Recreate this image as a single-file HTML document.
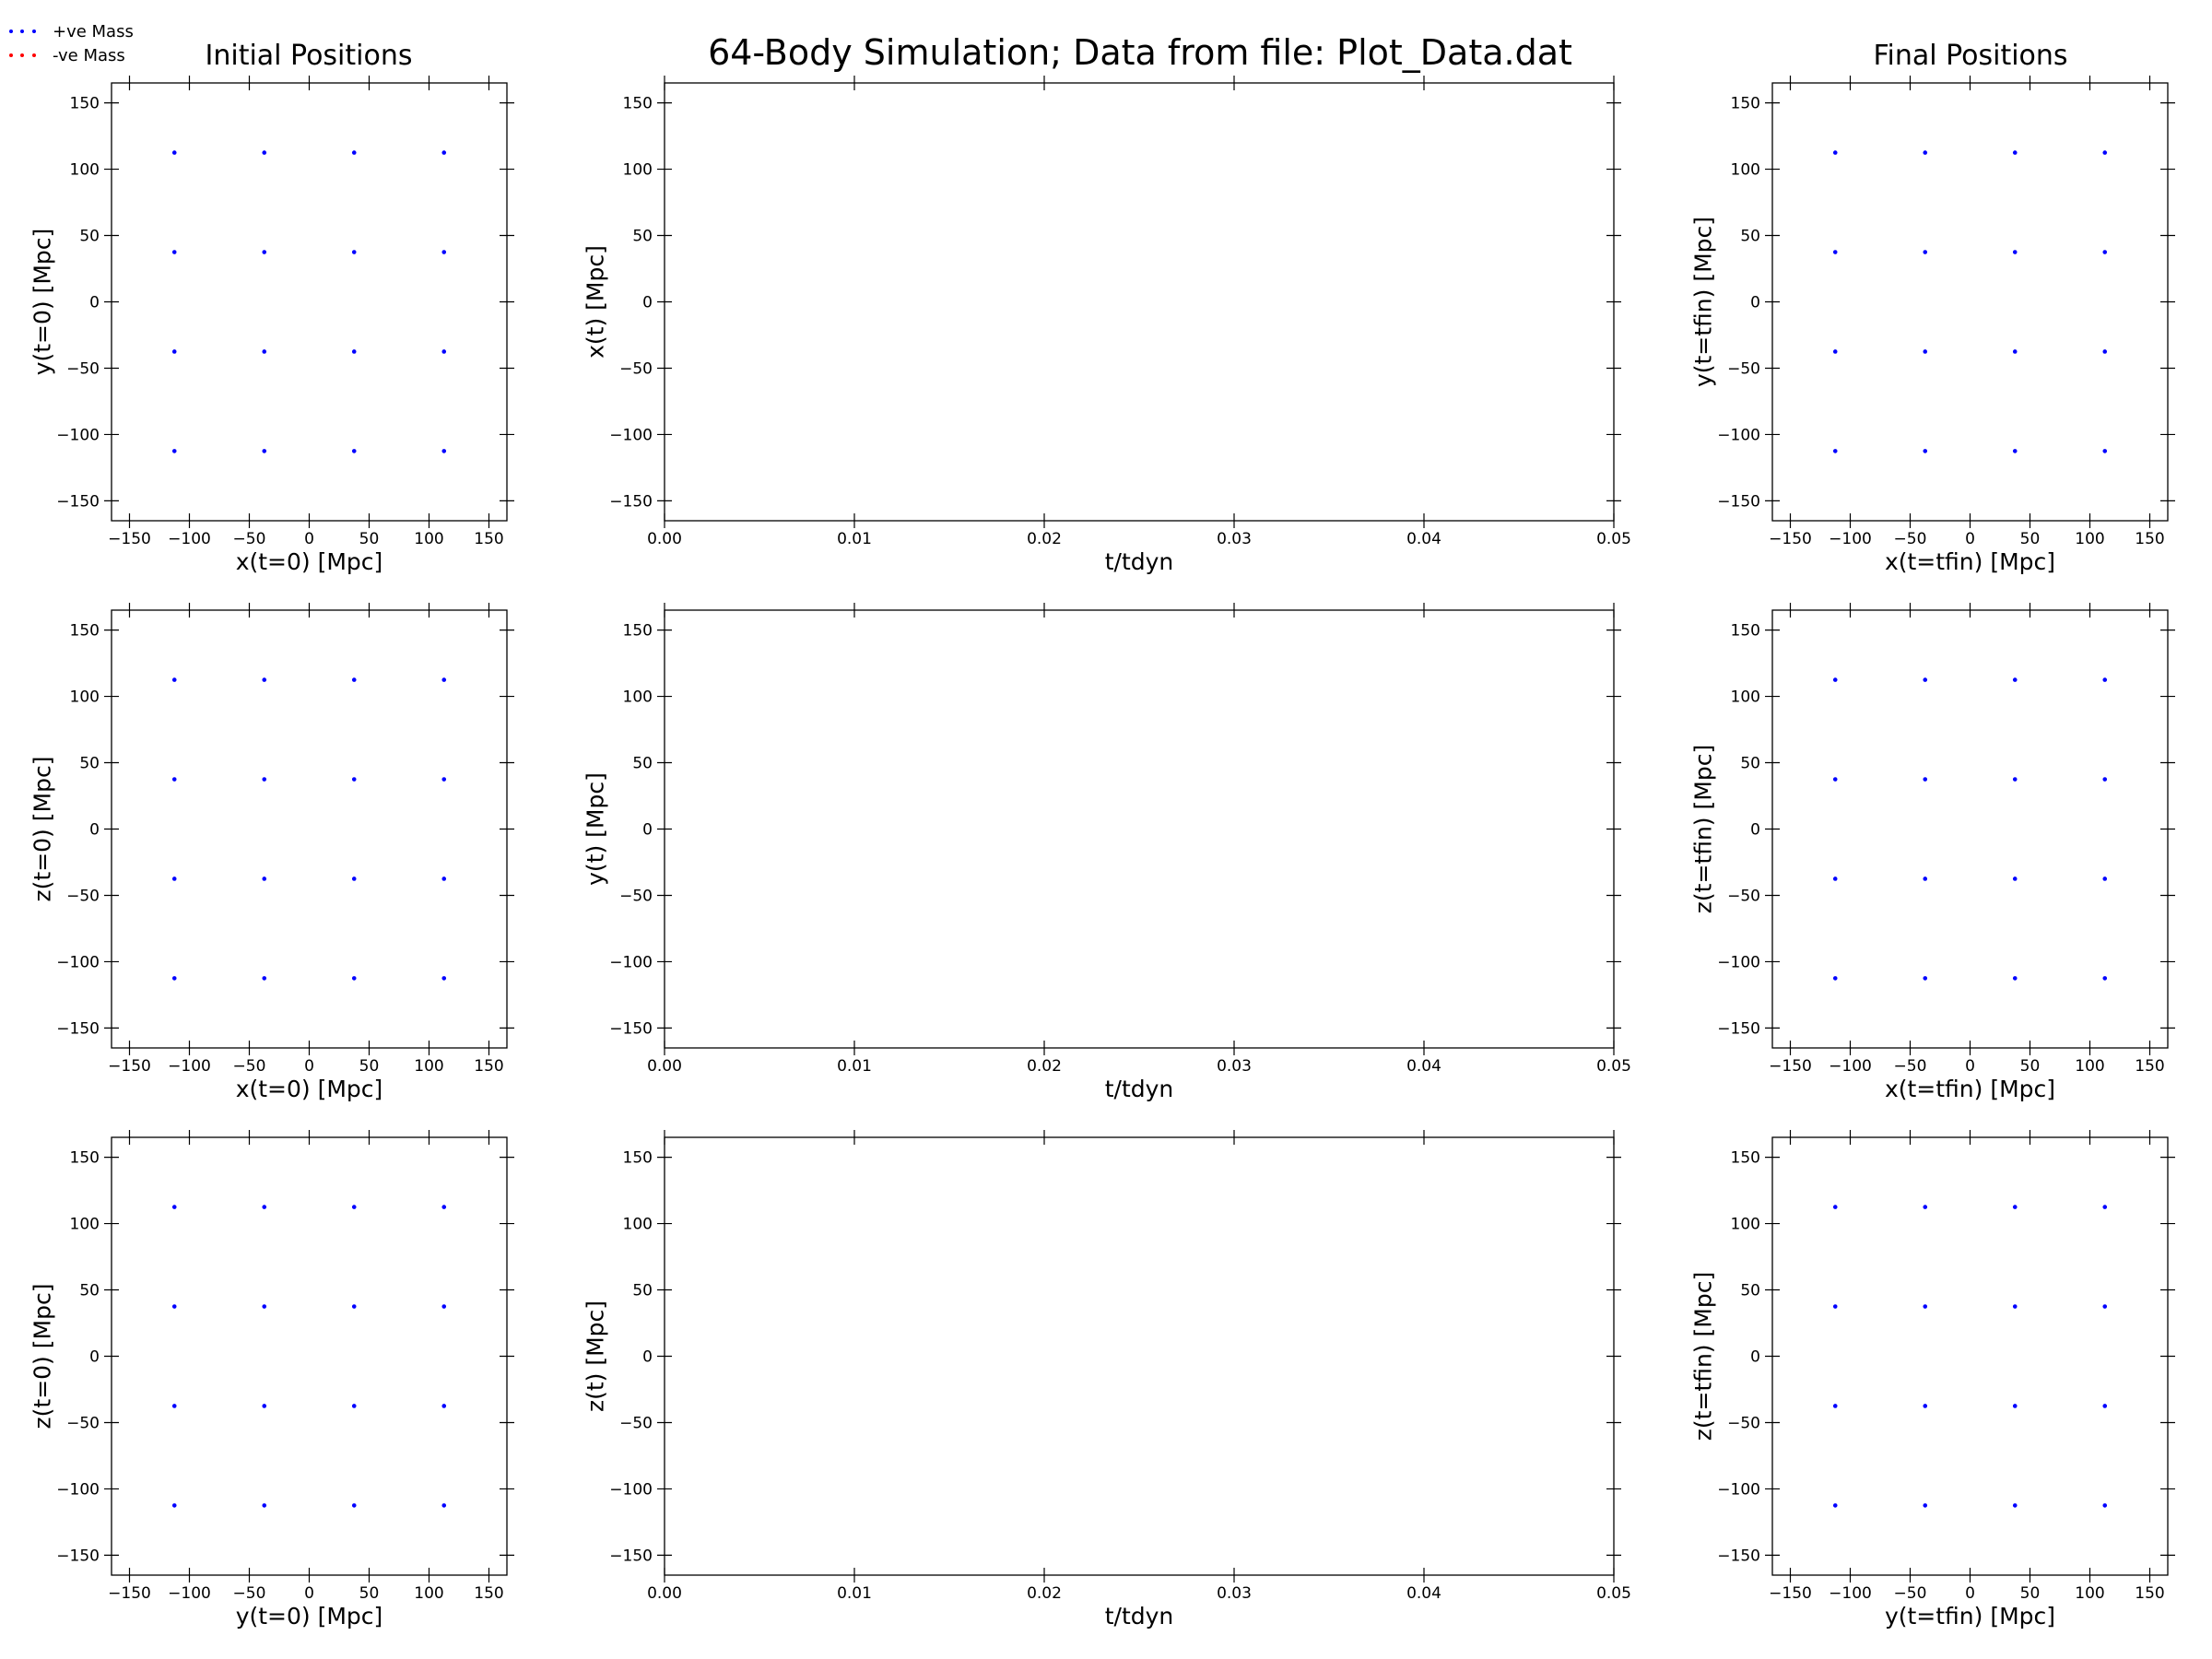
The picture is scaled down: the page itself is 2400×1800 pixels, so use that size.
<!DOCTYPE html>
<html><head><meta charset="utf-8">
<style>
html,body{margin:0;padding:0;background:#fff;}
svg{display:block;font-family:"DejaVu Sans","Liberation Sans",sans-serif;}
</style></head>
<body>
<svg id="fig" width="2400" height="1800" viewBox="0 0 2400 1800" xmlns="http://www.w3.org/2000/svg">
<rect width="2400" height="1800" fill="#fff"/>
<text x="1237" y="70" font-size="38" text-anchor="middle">64-Body Simulation; Data from file: Plot_Data.dat</text>
<text x="335" y="70" font-size="30" text-anchor="middle">Initial Positions</text>
<text x="2138" y="70" font-size="30" text-anchor="middle">Final Positions</text>
<g font-family="DejaVu Sans, sans-serif">
  <g>
    <circle cx="12" cy="34" r="2" fill="#0000ff"/><circle cx="24" cy="34" r="2" fill="#0000ff"/><circle cx="37" cy="34" r="2" fill="#0000ff"/>
    <text x="57" y="40" font-size="18">+ve Mass</text>
  </g>
  <g>
    <circle cx="12" cy="60" r="2" fill="#ff0000"/><circle cx="24" cy="60" r="2" fill="#ff0000"/><circle cx="37" cy="60" r="2" fill="#ff0000"/>
    <text x="57" y="66" font-size="18">-ve Mass</text>
  </g>
</g>
</svg>
<script>
// Data
const posTicks = [-150, -100, -50, 0, 50, 100, 150];
const posTickLabels = ["\u2212150", "\u2212100", "\u221250", "0", "50", "100", "150"];
const timeTicks = [0.00, 0.01, 0.02, 0.03, 0.04, 0.05];
const timeTickLabels = ["0.00", "0.01", "0.02", "0.03", "0.04", "0.05"];
const gridA = [-112.5, -112.5, -112.5, -112.5, -37.5, -37.5, -37.5, -37.5, 37.5, 37.5, 37.5, 37.5, 112.5, 112.5, 112.5, 112.5];
const gridB = [-112.5, -37.5, 37.5, 112.5, -112.5, -37.5, 37.5, 112.5, -112.5, -37.5, 37.5, 112.5, -112.5, -37.5, 37.5, 112.5];
const initX = gridA, initY = gridB, initZ = gridB;
const initYforZ = gridA;
const finX = gridA, finY = gridB, finZ = gridB;
const finYforZ = gridA;

const NS = "http://www.w3.org/2000/svg";
const svg = document.getElementById('fig');
function mk(tag, attrs, parent) {
  const e = document.createElementNS(NS, tag);
  for (const k in attrs) e.setAttribute(k, attrs[k]);
  parent.appendChild(e);
  return e;
}
const rowTops = [90, 662, 1234];
const H = 475;
const cols = [{l:121, w:429}, {l:721, w:1030}, {l:1923, w:429}];

function panel(name, col, row, xdom, xt, xtl, xlabel, ylabel, px, py) {
  const L = cols[col].l, W = cols[col].w, T = rowTops[row];
  const g = mk('g', {}, svg);
  
  
  const sx = v => L + (v - xdom[0]) / (xdom[1] - xdom[0]) * W;
  const sy = v => T + H - (v + 165) / 330 * H;
  const frame = mk('rect', {x:L, y:T, width:W, height:H, fill:'none', stroke:'#000', 'stroke-width':1.3}, g);
  
  
  xt.forEach((v, i) => {
    const x = sx(v);
    const tk = mk('path', {d:`M${x},${T-8}V${T+8}M${x},${T+H-8}V${T+H+8}`, stroke:'#000', 'stroke-width':1.2}, g);
    
    
    const t = mk('text', {x:x, y:T+H+25, 'font-size':17, 'text-anchor':'middle'}, g);
    t.textContent = xtl[i];
    
    
  });
  posTicks.forEach((v, i) => {
    const y = sy(v);
    const tk = mk('path', {d:`M${L-8},${y}H${L+8}M${L+W-8},${y}H${L+W+8}`, stroke:'#000', 'stroke-width':1.2}, g);
    
    
    const t = mk('text', {x:L-13, y:y+6, 'font-size':17, 'text-anchor':'end'}, g);
    t.textContent = posTickLabels[i];
    
    
  });
  const xl = mk('text', {x:L+W/2, y:T+H+53, 'font-size':25, 'text-anchor':'middle'}, g);
  xl.textContent = xlabel;
  
  
  const yx = L - 75;
  const yl = mk('text', {x:yx, y:T+H/2, 'font-size':25, 'text-anchor':'middle', transform:`rotate(-90 ${yx} ${T+H/2})`, 'dominant-baseline':'central'}, g);
  yl.textContent = ylabel;
  
  
  if (px) {
    px.forEach((v, i) => {
      const c = mk('circle', {cx:sx(v), cy:sy(py[i]), r:2.3, fill:'#0000ff'}, g);
      
      
    });
  }
}
const pd = [-165, 165], td = [0, 0.05];
panel('initial-xy-panel', 0, 0, pd, posTicks, posTickLabels, 'x(t=0) [Mpc]', 'y(t=0) [Mpc]', initX, initY);
panel('initial-xz-panel', 0, 1, pd, posTicks, posTickLabels, 'x(t=0) [Mpc]', 'z(t=0) [Mpc]', initX, initZ);
panel('initial-yz-panel', 0, 2, pd, posTicks, posTickLabels, 'y(t=0) [Mpc]', 'z(t=0) [Mpc]', initYforZ, initZ);
panel('x-vs-time-panel', 1, 0, td, timeTicks, timeTickLabels, 't/tdyn', 'x(t) [Mpc]', null, null);
panel('y-vs-time-panel', 1, 1, td, timeTicks, timeTickLabels, 't/tdyn', 'y(t) [Mpc]', null, null);
panel('z-vs-time-panel', 1, 2, td, timeTicks, timeTickLabels, 't/tdyn', 'z(t) [Mpc]', null, null);
panel('final-xy-panel', 2, 0, pd, posTicks, posTickLabels, 'x(t=tfin) [Mpc]', 'y(t=tfin) [Mpc]', finX, finY);
panel('final-xz-panel', 2, 1, pd, posTicks, posTickLabels, 'x(t=tfin) [Mpc]', 'z(t=tfin) [Mpc]', finX, finZ);
panel('final-yz-panel', 2, 2, pd, posTicks, posTickLabels, 'y(t=tfin) [Mpc]', 'z(t=tfin) [Mpc]', finYforZ, finZ);
</script>
</body></html>
